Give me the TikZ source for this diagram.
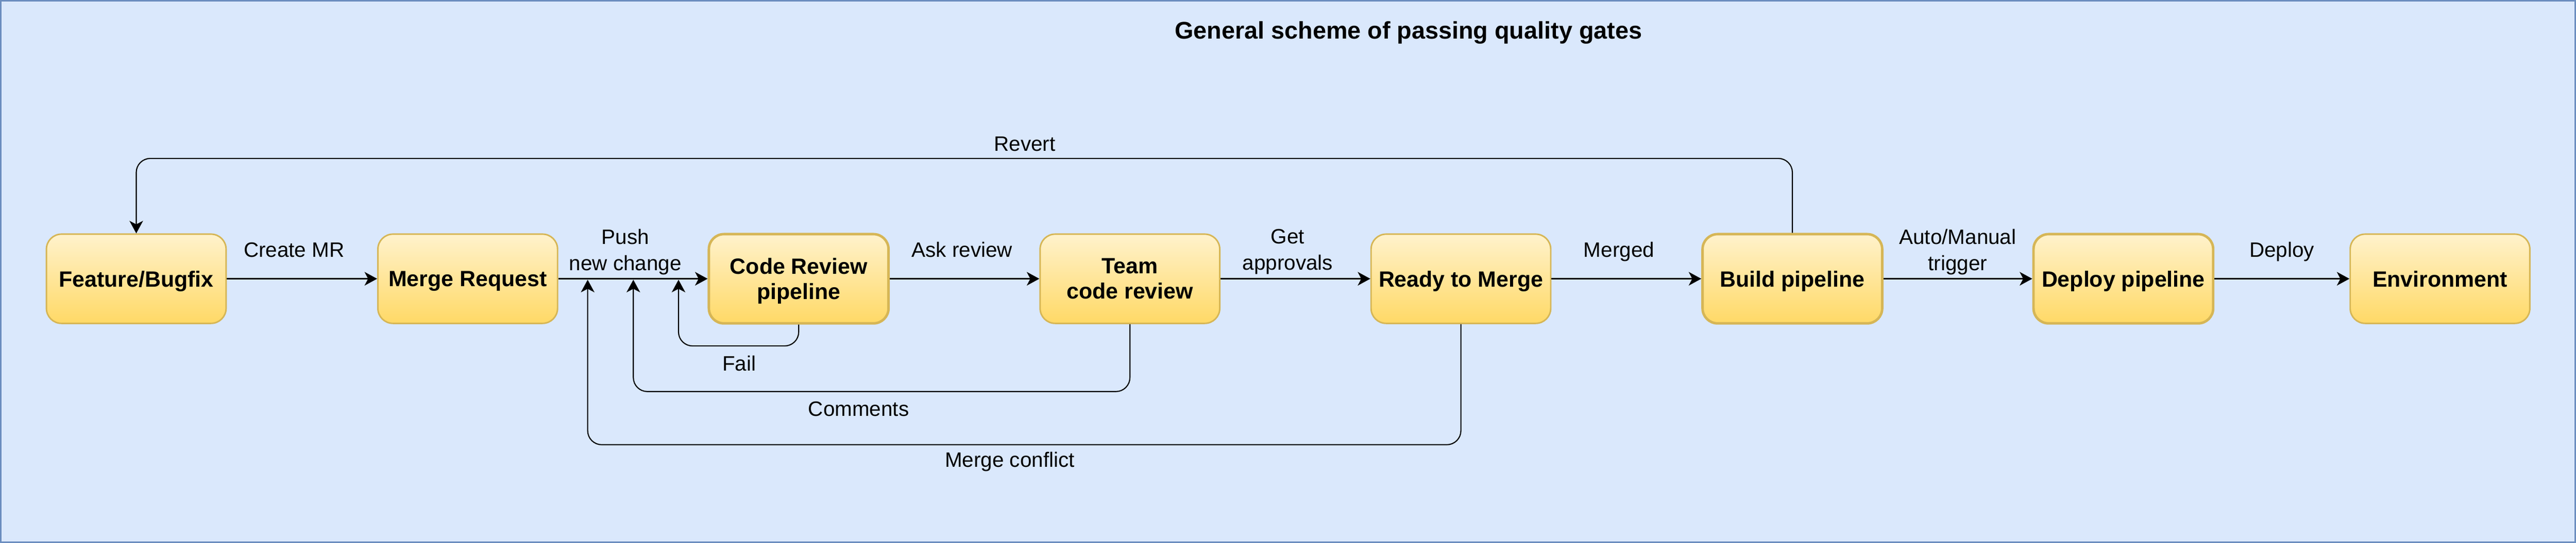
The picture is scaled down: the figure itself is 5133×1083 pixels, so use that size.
\documentclass[tikz,border=0pt]{standalone}
\usepackage{fontspec}
\setmainfont{Liberation Sans}
\usetikzlibrary{arrows.meta}
\definecolor{frameFill}{HTML}{DAE8FC}
\definecolor{frameLine}{HTML}{6C8EBF}
\definecolor{boxTop}{HTML}{FFF2CC}
\definecolor{boxBot}{HTML}{FFD966}
\definecolor{boxLine}{HTML}{D6B656}
\begin{document}
\begin{tikzpicture}[x=0.5pt,y=-0.5pt,
  stagebox/.style={draw=boxLine, line width=1.5pt, rounded corners=15pt,
    top color=boxTop, bottom color=boxBot, minimum width=179pt, minimum height=89pt,
    inner sep=0pt, align=center, font=\fontsize{22}{25}\selectfont\bfseries, text depth=0pt},
  pipebox/.style={stagebox, line width=2.5pt},
  lbl/.style={font=\fontsize{20.75}{26}\selectfont, align=center, inner sep=0pt, text depth=0pt},
  mainflow/.style={line width=1.6pt, -{Stealth[length=12.5pt,width=13.5pt,inset=3.5pt]}},
  back/.style={line width=1.1pt, rounded corners=14pt, -{Stealth[length=12.5pt,width=13.5pt,inset=3.5pt]}},
]
\useasboundingbox (0,0) rectangle (5133,1083);
\draw[fill=frameFill, draw=frameLine, line width=1.5pt] (1.5,1.5) rectangle (5131.5,1081.5);

\node[font=\fontsize{24}{28}\selectfont\bfseries, inner sep=0pt, text depth=0pt] (title) at (2806.5,60) {General scheme of passing quality gates};

\node[stagebox] (feat)  at (271.5,556) {Feature/Bugfix};
\node[stagebox] (mr)    at (932,556) {Merge Request};
\node[pipebox]  (crp)   at (1591.5,556) {Code Review\\pipeline};
\node[stagebox] (team)  at (2251.5,556) {Team\\code review};
\node[stagebox] (ready) at (2911,556) {Ready to Merge};
\node[pipebox]  (build) at (3571.5,556) {Build pipeline};
\node[pipebox]  (dep)   at (4231,556) {Deploy pipeline};
\node[stagebox] (env)   at (4862,556) {Environment};

\draw[mainflow] (feat) -- (mr);
\draw[mainflow] (mr) -- (crp);
\draw[mainflow] (crp) -- (team);
\draw[mainflow] (team) -- (ready);
\draw[mainflow] (ready) -- (build);
\draw[mainflow] (build) -- (dep);
\draw[mainflow] (dep) -- (env);

\coordinate (f1) at (1352,558);
\coordinate (f2) at (1262,558);
\coordinate (f3) at (1171,558);
\coordinate (yfail) at (0,690);
\coordinate (ycom) at (0,781);
\coordinate (ymc) at (0,887);
\coordinate (yrev) at (0,316);

\draw[back] (crp.south) -- (crp.south |- yfail) -| (f1);
\draw[back] (team.south) -- (team.south |- ycom) -| (f2);
\draw[back] (ready.south) -- (ready.south |- ymc) -| (f3);
\draw[back] (build.north) -- (build.north |- yrev) -| (feat.north);

\node[lbl] (lcreate) at (586,498) {Create MR};
\node[lbl] (lpush)   at (1246,498) {Push\\new change};
\node[lbl] (lask)    at (1917,498) {Ask review};
\node[lbl] (lget)    at (2566,498) {Get\\approvals};
\node[lbl] (lmerged) at (3226,498) {Merged};
\node[lbl] (lauto)   at (3901,498) {Auto/Manual\\trigger};
\node[lbl] (ldeploy) at (4547,498) {Deploy};
\node[lbl] (lrevert) at (2042,287) {Revert};
\node[lbl] (lfail)   at (1473,725) {Fail};
\node[lbl] (lcomm)   at (1711,815) {Comments};
\node[lbl] (lconf)   at (2012,917) {Merge conflict};
\end{tikzpicture}
\end{document}
